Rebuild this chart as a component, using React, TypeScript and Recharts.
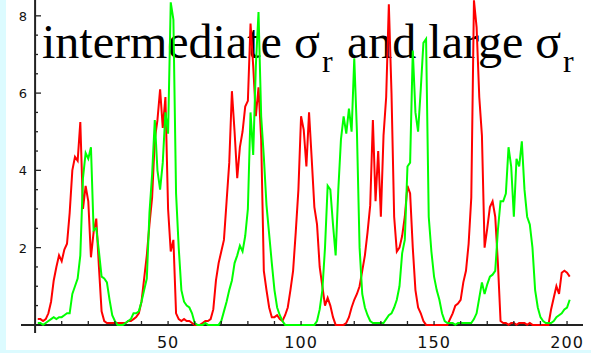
import React from 'react';
import { LineChart, Line, XAxis, YAxis, ReferenceLine } from 'recharts';

// red population, x = 1..201
const redValues: number[] = [
  0.15, 0.15, 0.1, 0.15, 0.3, 0.6, 1.15, 1.5, 1.8, 1.65,
  1.95, 2.1, 2.9, 4.0, 4.35, 4.25, 5.25, 3.0, 3.6, 3.2,
  1.75, 2.4, 2.75, 1.5, 0.35, 0.1, 0.05, 0.05, 0.05, 0.05,
  0.05, 0.05, 0.05, 0.05, 0.1, 0.1, 0.15, 0.2, 0.3, 0.6,
  1.2, 1.8, 2.6, 3.3, 4.8, 5.3, 6.1, 5.1, 5.9, 3.0,
  1.9, 2.2, 0.3, 0.15, 0.1, 0.15, 0.1, 0.1, 0.05, 0,
  0, 0, 0.05, 0.1, 0.1, 0.15, 0.4, 1.15, 1.6, 1.9,
  2.2, 3.2, 4.2, 6.05, 5.0, 3.8, 4.6, 5.0, 5.65, 5.8,
  7.8, 6.7, 5.4, 6.15, 4.8, 1.4, 0.9, 0.45, 0.2, 0.2,
  0.25, 0.15, 0.1, 0.25, 0.45, 0.9, 1.4, 2.4, 3.5, 5.4,
  5.05, 4.1, 5.5, 4.3, 3.05, 2.6, 1.5, 1.0, 0.5, 0.7,
  0.5, 0.2, 0, 0, 0, 0, 0.05, 0.2, 0.45, 0.65,
  0.8, 1.0, 1.4, 1.8, 2.4, 3.1, 5.3, 3.2, 4.5, 2.8,
  4.9, 5.9, 8.3, 6.0, 2.8, 1.9, 2.0, 2.3, 2.8, 3.6,
  3.4, 2.0, 0.9, 0.45, 0.3, 0.1, 0, 0, 0, 0,
  0, 0, 0, 0, 0, 0.15, 0.3, 0.5, 0.55, 0.65,
  1.1, 1.4, 2.1, 3.3, 8.4, 7.7, 5.9, 4.9, 2.0, 2.5,
  3.05, 3.2, 2.8, 1.6, 0.1, 0.05, 0.05, 0, 0.05, 0.05,
  0, 0.05, 0.05, 0.05, 0, 0.05, 0, 0, 0, 0,
  0, 0, 0, 0.4, 0.7, 1.0, 0.8, 1.35, 1.4, 1.35,
  1.25,
];

// green population, x = 1..201
const greenValues: number[] = [
  0.05, 0.05, 0, 0.05, 0.1, 0.15, 0.2, 0.15, 0.2, 0.2,
  0.25, 0.3, 0.3, 0.8, 1.0, 1.2, 1.8, 3.8, 4.45, 4.3,
  4.6, 2.45, 2.5, 1.9, 1.25, 1.2, 1.1, 0.65, 0.25, 0.1,
  0, 0, 0, 0.05, 0.1, 0.15, 0.3, 0.3, 0.35, 0.6,
  0.9, 1.2, 2.9, 3.9, 5.3, 4.0, 3.5, 4.2, 5.5, 4.95,
  8.35, 7.9, 3.4, 2.0, 0.9, 0.6, 0.5, 0.45, 0.3, 0.05,
  0, 0, 0, 0.05, 0, 0, 0, 0, 0, 0.1,
  0.35, 0.6, 0.9, 1.15, 1.6, 1.8, 2.05, 1.9, 2.3, 3.0,
  5.5, 4.4, 6.7, 8.1, 5.4, 4.35, 3.1, 2.35, 1.6, 0.9,
  0.45, 0.25, 0.1, 0, 0, 0, 0, 0, 0, 0,
  0, 0, 0, 0, 0, 0.1, 0.4, 0.9, 2.0, 3.6,
  3.5, 2.6, 1.8, 3.5, 4.8, 5.4, 4.95, 5.6, 5.0, 6.9,
  5.0, 2.0, 0.8, 0.45, 0.25, 0.1, 0.05, 0.05, 0.05, 0.05,
  0.05, 0.15, 0.25, 0.3, 0.45, 0.65, 1.0, 1.85, 2.2, 4.1,
  4.2, 7.1, 5.5, 5.0, 6.1, 7.3, 7.4, 2.8, 1.9, 1.25,
  0.9, 0.65, 0.3, 0.1, 0.05, 0.05, 0.05, 0, 0.05, 0.05,
  0.05, 0.05, 0.05, 0.05, 0.15, 0.3, 0.7, 1.1, 0.8, 1.05,
  1.25, 1.3, 1.4, 2.45, 3.2, 3.2, 3.4, 4.6, 4.1, 2.8,
  4.3, 4.1, 4.75, 3.5, 2.8, 2.6, 2.0, 0.9, 0.45, 0.2,
  0.1, 0.05, 0.05, 0.05, 0.1, 0.2, 0.25, 0.3, 0.4, 0.45,
  0.65,
];

const xTicks: number[] = [10, 20, 30, 40, 50, 60, 70, 80, 90, 100, 110, 120, 130, 140, 150, 160, 170, 180, 190, 200];
const xLabels: number[] = [50, 100, 150, 200];
const yTicks: number[] = [0.5, 1, 1.5, 2, 2.5, 3, 3.5, 4, 4.5, 5, 5.5, 6, 6.5, 7, 7.5, 8];
const yLabels: number[] = [2, 4, 6, 8];

const data = redValues.map((r, i) => ({ x: i + 1, red: r, green: greenValues[i] }));

const AXIS = '#222';

const XTick = (props: any) => {
  const { x, payload } = props;
  const v = payload.value;
  return (
    <g>
      <line x1={x} x2={x} y1={321} y2={325} stroke={AXIS} strokeWidth={1.3} />
      {xLabels.includes(v) && (
        <text x={x} y={348} textAnchor="middle" fontSize={16} fontFamily="DejaVu Sans" letterSpacing={1} fill="#111">
          {v}
        </text>
      )}
    </g>
  );
};

const YTick = (props: any) => {
  const { y, payload } = props;
  const v = payload.value;
  const major = yLabels.includes(v);
  return (
    <g>
      <line x1={35} x2={major ? 41 : 38} y1={y} y2={y} stroke={AXIS} strokeWidth={1.3} />
      {major && (
        <text x={23} y={y + 5} textAnchor="middle" fontSize={13} fontFamily="DejaVu Sans" fill="#111">
          {v}
        </text>
      )}
    </g>
  );
};

export default function App() {
  return (
    <div style={{ position: 'absolute', left: 0, top: 0, width: 591, height: 353, background: '#dcfbff', overflow: 'hidden' }}>
      <div style={{ position: 'absolute', left: 6, top: 0, width: 585, height: 350, background: '#ffffff' }} />
      <svg width={591} height={353} style={{ position: 'absolute', left: 0, top: 0 }}>
        <text fontFamily="'Liberation Serif', 'Times New Roman', serif" fontSize={48} fill="#000">
          <tspan x={42} y={58}>intermediate σ</tspan>
          <tspan x={322} y={72} fontSize={32}>r</tspan>
          <tspan x={347} y={58}>and large σ</tspan>
          <tspan x={563} y={72} fontSize={32}>r</tspan>
        </text>
      </svg>
      <div style={{ position: 'absolute', left: 0, top: 0 }}>
        <LineChart width={591} height={353} data={data} margin={{ top: 0, right: 8, bottom: 0, left: 7 }}>
          <XAxis
            dataKey="x"
            type="number"
            domain={[-5.3, 206]}
            allowDataOverflow
            ticks={xTicks}
            interval={0}
            axisLine={false}
            tickLine={false}
            tick={<XTick />}
            height={20}
          />
          <YAxis
            type="number"
            domain={[-0.21, 8.41]}
            allowDataOverflow
            ticks={yTicks}
            interval={0}
            axisLine={false}
            tickLine={false}
            tick={<YTick />}
            width={14}
          />
          <ReferenceLine y={0} stroke={AXIS} strokeWidth={2} />
          <ReferenceLine x={0} stroke={AXIS} strokeWidth={2} />
          <Line type="linear" dataKey="red" stroke="#ff0000" strokeWidth={2} dot={false} isAnimationActive={false} />
          <Line type="linear" dataKey="green" stroke="#00ff00" strokeWidth={2} dot={false} isAnimationActive={false} />
        </LineChart>
      </div>
    </div>
  );
}
